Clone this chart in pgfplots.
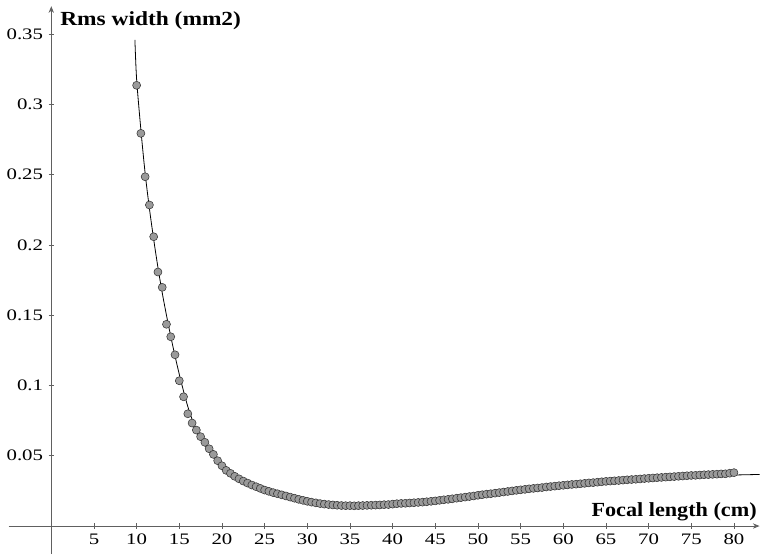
\documentclass[border=0pt]{standalone}
\usepackage{fontspec}
\setmainfont{Liberation Serif}
\usepackage{graphicx}
\usepackage{pgfplots}
\usepackage{pgfplotstable}
\pgfplotsset{compat=1.18}
\usetikzlibrary{arrows.meta}
\definecolor{axgray}{HTML}{606060}
\definecolor{ptfill}{HTML}{9A9A9A}

% measured points
\pgfplotstableread{
x y
10 0.3137
10.5 0.2795
11 0.2486
11.5 0.2285
12 0.2059
12.5 0.1808
13 0.1699
13.5 0.1436
14 0.1347
14.5 0.1219
15 0.1034
15.5 0.0920
16 0.0799
16.5 0.0733
17 0.0683
17.5 0.0636
18 0.0596
18.5 0.0550
19 0.0510
19.5 0.0465
20 0.0429
20.5 0.0396
21 0.0375
21.5 0.0354
22 0.0336
22.5 0.0320
23 0.0306
23.5 0.0292
24 0.0280
24.5 0.0268
25 0.0256
25.5 0.0247
26 0.0238
26.5 0.0230
27 0.0222
27.5 0.0214
28 0.0206
28.5 0.0198
29 0.0190
29.5 0.0183
30 0.0176
30.5 0.0170
31 0.0165
31.5 0.0160
32 0.0156
32.5 0.0153
33 0.0150
33.5 0.0148
34 0.0146
34.5 0.0145
35 0.0145
35.5 0.0144
36 0.0145
36.5 0.0146
37 0.0147
37.5 0.0148
38 0.0149
38.5 0.0150
39 0.0152
39.5 0.0153
40 0.0156
40.5 0.0159
41 0.0161
41.5 0.0162
42 0.0164
42.5 0.0166
43 0.0168
43.5 0.0170
44 0.0173
44.5 0.0176
45 0.0179
45.5 0.0183
46 0.0187
46.5 0.0190
47 0.0194
47.5 0.0198
48 0.0202
48.5 0.0206
49 0.0210
49.5 0.0214
50 0.0219
50.5 0.0223
51 0.0227
51.5 0.0230
52 0.0234
52.5 0.0238
53 0.0242
53.5 0.0246
54 0.0250
54.5 0.0254
55 0.0258
55.5 0.0261
56 0.0265
56.5 0.0268
57 0.0271
57.5 0.0274
58 0.0278
58.5 0.0281
59 0.0284
59.5 0.0287
60 0.0290
60.5 0.0293
61 0.0296
61.5 0.0298
62 0.0301
62.5 0.0304
63 0.0307
63.5 0.0309
64 0.0312
64.5 0.0315
65 0.0318
65.5 0.0320
66 0.0322
66.5 0.0324
67 0.0327
67.5 0.0329
68 0.0331
68.5 0.0333
69 0.0335
69.5 0.0338
70 0.0340
70.5 0.0342
71 0.0344
71.5 0.0346
72 0.0348
72.5 0.0350
73 0.0352
73.5 0.0354
74 0.0356
74.5 0.0358
75 0.0360
75.5 0.0361
76 0.0363
76.5 0.0365
77 0.0366
77.5 0.0368
78 0.0369
78.5 0.0371
79 0.0372
79.5 0.0376
80 0.0380
}\measured

% fitted curve
\pgfplotstableread{
x y
9.8 0.346
10 0.318
10.5 0.282
11 0.251
11.5 0.226
12 0.204
12.5 0.184
13 0.166
13.5 0.150
14 0.135
14.5 0.121
15 0.108
15.5 0.096
16 0.085
16.5 0.076
17 0.068
17.5 0.062
18 0.0575
18.5 0.0535
19 0.0497
19.5 0.0460
20 0.0428
21 0.0375
22 0.0336
23 0.0305
24 0.0280
25 0.0257
26 0.0238
27 0.0220
28 0.0204
29 0.0190
30 0.0176
31 0.0165
32 0.0156
33 0.0150
34 0.0146
35 0.0145
36 0.0145
37 0.0147
38 0.0149
40 0.0155
42 0.0164
44 0.0174
46 0.0187
48 0.0202
50 0.0219
55 0.0257
60 0.0289
65 0.0316
70 0.0338
75 0.0353
80 0.0363
83 0.0367
}\fitted

\begin{document}
\fontsize{12}{14}\selectfont
\begin{tikzpicture}
\begin{axis}[
    x=6.4pt, y=1053.75pt,
    axis lines=middle,
    axis line style={axgray, line width=0.6pt, -{Stealth[length=5pt,width=4pt]}},
    xmin=-5, xmax=83,
    ymin=-0.02, ymax=0.37,
    xtick={5,10,...,80},
    ytick={0.05,0.1,0.15,0.2,0.25,0.3,0.35},
    tick style={axgray, line width=0.6pt},
    major tick length=4pt,
    tick align=center,
    /pgf/number format/assume math mode=true,
    /pgf/number format/fixed,
    /pgf/number format/precision=2,
    xticklabel={\scalebox{1.3}[1]{\pgfmathprintnumber{\tick}}},
    yticklabel={\scalebox{1.3}[1]{\pgfmathprintnumber{\tick}}},
    ticklabel style={font=\fontsize{12}{14}\selectfont},
    clip=false,
]
\addplot[black, line width=0.6pt, smooth, no marks] table[x=x,y=y] {\fitted};
\addplot[only marks, mark=*, mark size=3pt,
    mark options={fill=ptfill, draw=black!80, line width=0.4pt}]
    table[x=x,y=y] {\measured};
\node[anchor=base west, inner sep=0pt, font=\fontsize{15}{17}\selectfont\bfseries]
    at (axis cs:1.03,0.3559) {\scalebox{1.17}[1]{Rms width (mm2)}};
\node[anchor=base east, inner sep=0pt, font=\fontsize{15}{17}\selectfont\bfseries]
    at (axis cs:82.7,0.0066) {\scalebox{1.11}[1]{Focal length (cm)}};
\coordinate (ll) at (axis cs:-6.01,-0.02135);
\coordinate (ur) at (axis cs:83.17,0.3744);
\end{axis}
\path (ll) rectangle (ur);
\end{tikzpicture}
\end{document}
